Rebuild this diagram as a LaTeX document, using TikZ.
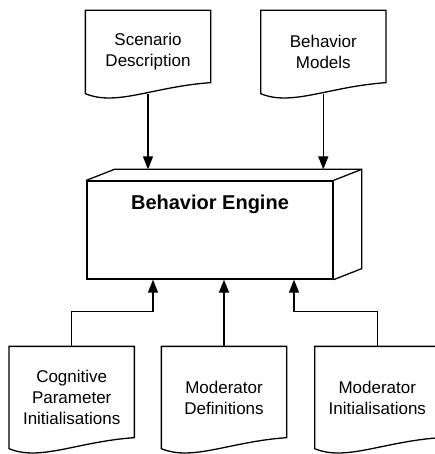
\documentclass[tikz,border=0pt]{standalone}
\usepackage{fontspec}
\setmainfont{Liberation Sans}
\usetikzlibrary{arrows.meta,positioning}

\newcommand{\docshape}[1]{%
  \draw (#1.north west) -- (#1.south west)
    .. controls ([xshift=31pt,yshift=-13pt]#1.south west)
           and ([xshift=68pt,yshift=7pt]#1.south west) ..
    ([yshift=11pt]#1.south east) -- (#1.north east) -- cycle;}

\begin{document}
\begin{tikzpicture}[x=1pt,y=-1pt,line width=1.3pt,
                    >={Triangle[length=13pt,width=10pt]},
                    doc/.style={minimum width=124pt,inner sep=0pt,align=center,
                                font=\fontsize{17}{21}\selectfont},
                    box/.style={draw,minimum width=246pt,inner ysep=0pt,
                                text height=28.5pt,text depth=69.5pt,
                                font=\fontsize{20}{24}\selectfont\bfseries}]
  \useasboundingbox (0,0) rectangle (434,454);

  \node[box]                      (engine) at (210,230) {Behavior Engine};
  \node[doc,minimum height=82pt]  (scen)   at (148,52)  {Scenario\\Description};
  \node[doc,minimum height=82pt]  (models) [right=50pt of scen] {Behavior\\Models};
  \node[doc,minimum height=101pt] (moddef) at (224,397.5) {Moderator\\Definitions};
  \node[doc,minimum height=101pt] (cogn)   [left=27pt of moddef]
        {Cognitive\\Parameter\\Initialisations};
  \node[doc,minimum height=101pt] (modinit) [right=28pt of moddef]
        {Moderator\\Initialisations};

  % depth of the engine box
  \coordinate (engine top) at ([shift={(28,-11)}]engine.north west);
  \draw (engine.north west) -- (engine top)
        -| ([shift={(28,-11)}]engine.south east) -- (engine.south east);
  \draw (engine.north east) -- ++(28,-11);

  \docshape{scen}
  \docshape{models}
  \docshape{cogn}
  \docshape{moddef}
  \docshape{modinit}

  \draw[->] (scen.south)   -- (scen.south |- engine top);
  \draw[->] (models.south) -- (models.south |- engine top);
  \draw[->] (cogn.north)    -- ++(0,-35) -| ([xshift=-57pt]engine.south);
  \draw[->] (moddef.north)  -- (moddef.north |- engine.south);
  \draw[->] (modinit.north) -- ++(0,-35) -| ([xshift=84pt]engine.south);
\end{tikzpicture}
\end{document}
